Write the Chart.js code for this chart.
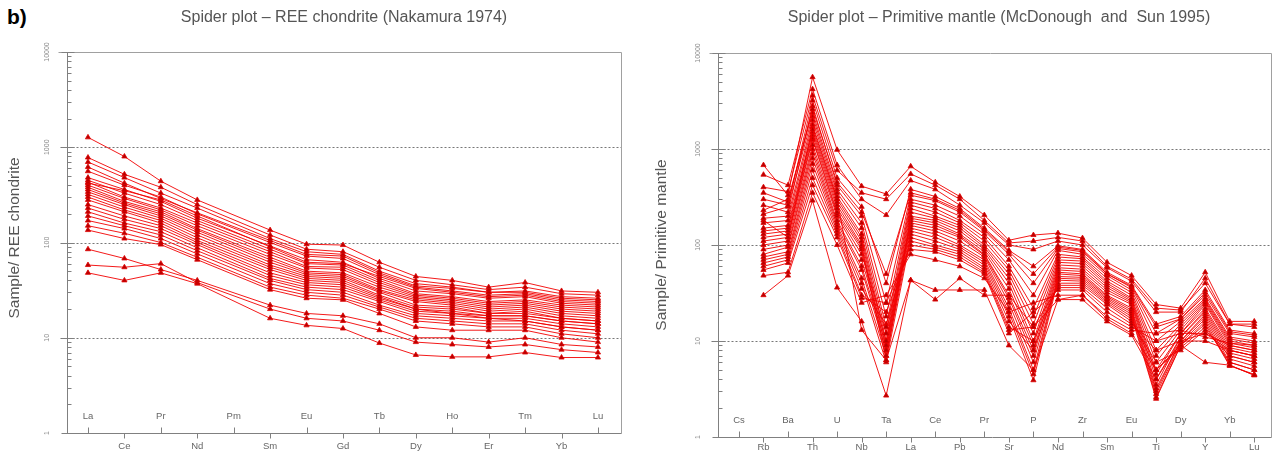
<!DOCTYPE html>
<html>
<head>
<meta charset="utf-8">
<script src="https://cdn.jsdelivr.net/npm/chart.js@4.4.1/dist/chart.umd.min.js"></script>
<style>
    body { margin: 0; background: #fff; width: 1277px; height: 452px; overflow: hidden; position: relative; }
    #tag { position: absolute; left: 7px; top: 5px; font: bold 21px "Liberation Sans", Arial, sans-serif; color: #000; }
    canvas { position: absolute; top: 0; }
    #reeChart { left: 0; }
    #pmChart { left: 640px; }
</style>
</head>
<body>
<div id="tag">b)</div>
<canvas id="reeChart" width="640" height="452"></canvas>
<canvas id="pmChart" width="637" height="452"></canvas>
<script>
// ---- data ----
const yTicks = [1, 10, 100, 1000, 10000];
const yGrid = [10, 100, 1000];

const reeLabels = ['La','Ce','Pr','Nd','Pm','Sm','Eu','Gd','Tb','Dy','Ho','Er','Tm','Yb','Lu'];
// chondrite normalised, Pm not analysed (null)
const reeSamples = [
    [1270, 800, 440, 280, null, 135, 96, 94, 62, 44, 40, 34, 38, 31, 30],
    [780, 520, 380, 250, null, 120, 85, 80, 55, 40, 36, 32, 34, 29, 28],
    [700, 480, 330, 230, null, 110, 80, 75, 50, 37, 34, 30, 31, 27, 26],
    [620, 420, 290, 205, null, 105, 75, 72, 48, 35, 33, 30, 30, 26, 25],
    [560, 400, 300, 200, null, 100, 72, 68, 46, 34, 31, 28, 29, 25, 24],
    [480, 360, 270, 180, null, 92, 66, 62, 42, 31, 29, 26, 27, 23, 22],
    [450, 330, 250, 170, null, 85, 60, 58, 40, 29, 27, 24, 25, 22, 21],
    [430, 300, 230, 160, null, 80, 56, 55, 38, 28, 26, 23, 24, 21, 20],
    [420, 350, 280, 190, null, 90, 62, 60, 44, 33, 30, 27, 28, 24, 23],
    [400, 290, 220, 150, null, 75, 54, 52, 36, 27, 25, 22, 23, 20, 19],
    [380, 270, 210, 140, null, 70, 50, 48, 34, 26, 24, 21, 22, 19, 18],
    [360, 260, 200, 135, null, 66, 48, 46, 32, 25, 23, 20, 21, 18, 17],
    [340, 250, 190, 128, null, 62, 46, 44, 31, 24, 22, 19, 20, 17, 16],
    [320, 235, 180, 120, null, 58, 44, 42, 30, 22, 21, 18, 19, 16, 15],
    [300, 220, 170, 112, null, 55, 42, 40, 28, 21, 20, 18, 18, 16, 15],
    [280, 210, 160, 105, null, 52, 40, 38, 27, 20, 19, 17, 17, 15, 14],
    [250, 190, 150, 100, null, 48, 38, 36, 26, 20, 18, 17, 17, 15, 14],
    [230, 175, 140, 95, null, 45, 36, 34, 25, 19, 18, 16, 16, 14, 13],
    [210, 160, 130, 88, null, 42, 34, 32, 24, 18, 17, 16, 15, 13, 12],
    [190, 150, 120, 82, null, 40, 32, 30, 22, 17, 16, 15, 15, 13, 12],
    [170, 140, 110, 76, null, 37, 30, 28, 21, 16, 15, 14, 14, 12, 11],
    [150, 125, 100, 70, null, 34, 28, 26, 20, 15, 14, 13, 13, 11, 10],
    [135, 110, 95, 66, null, 32, 26, 25, 18, 13, 12, 12, 12, 10, 9],
    [85, 68, 52, 40, null, 22, 18, 17, 14, 10, 10, 9, 10, 8.5, 8],
    [58, 55, 60, 38, null, 20, 16, 15, 12, 9, 8.5, 8, 8.5, 7.5, 7],
    [48, 40, 48, 37, null, 16, 13.5, 12.5, 8.8, 6.6, 6.3, 6.3, 7, 6.2, 6.2]
];

const pmLabels = ['Cs','Rb','Ba','Th','U','Nb','Ta','La','Ce','Pb','Pr','Sr','P','Nd','Zr','Sm','Eu','Ti','Dy','Y','Yb','Lu'];
// primitive mantle normalised, Cs not analysed (null)
const pmSamples = [
    [null, 680, 330, 5600, 980, 410, 340, 660, 450, 320, 205, 112, 127, 133, 118, 66, 48, 24, 22, 52, 16, 16],
    [null, 540, 420, 4200, 680, 300, 205, 470, 380, 260, 170, 100, 90, 110, 100, 58, 42, 20, 20, 45, 15, 15],
    [null, 400, 360, 3600, 600, 350, 300, 550, 420, 300, 180, 105, 110, 120, 110, 60, 44, 22, 21, 40, 15, 14],
    [null, 300, 260, 3200, 500, 250, 40, 380, 320, 240, 150, 88, 60, 98, 90, 52, 38, 15, 18, 34, 13, 12],
    [null, 350, 280, 2600, 450, 220, 50, 350, 300, 230, 145, 85, 50, 95, 88, 50, 37, 14, 17, 32, 12.5, 11.5],
    [null, 260, 220, 2800, 420, 200, 25, 330, 290, 220, 140, 80, 40, 92, 85, 50, 36, 12, 17, 30, 12, 11],
    [null, 230, 300, 2400, 380, 170, 18, 300, 260, 200, 130, 70, 30, 88, 80, 48, 34, 10, 16, 28, 11, 10],
    [null, 210, 250, 2200, 350, 150, 14, 280, 240, 180, 120, 60, 22, 80, 75, 45, 32, 8, 15, 27, 10.5, 9.5],
    [null, 190, 200, 2000, 320, 130, 12, 260, 220, 170, 110, 55, 18, 75, 72, 42, 30, 7, 14, 26, 10, 9],
    [null, 170, 180, 1800, 300, 120, 10, 240, 200, 160, 100, 50, 15, 70, 68, 40, 28, 6, 13, 25, 9.5, 8.5],
    [null, 150, 160, 1600, 280, 110, 9, 220, 190, 150, 95, 45, 12, 66, 64, 38, 27, 5, 12, 24, 9, 8],
    [null, 140, 150, 1500, 260, 100, 8, 200, 180, 140, 90, 40, 10, 62, 60, 36, 26, 4.5, 12, 22, 8.5, 7.5],
    [null, 130, 140, 1400, 240, 95, 7, 190, 170, 130, 85, 35, 9, 58, 56, 34, 25, 4, 11, 21, 8, 7],
    [null, 120, 130, 1300, 220, 90, 6.3, 180, 160, 125, 80, 30, 8, 55, 53, 32, 24, 3.5, 11, 20, 7.5, 6.5],
    [null, 110, 120, 1250, 210, 80, 12, 170, 150, 120, 78, 28, 7, 52, 50, 30, 22, 3.2, 10, 19, 7, 6],
    [null, 100, 110, 1100, 200, 70, 10, 160, 140, 110, 75, 25, 6, 50, 48, 29, 21, 3, 10, 18, 6.5, 5.5],
    [null, 90, 100, 1000, 180, 60, 9, 150, 130, 100, 70, 22, 5, 47, 46, 28, 20, 2.8, 9.5, 17, 6, 5],
    [null, 80, 95, 900, 170, 55, 8, 140, 120, 95, 66, 20, 4.5, 45, 44, 27, 19, 2.6, 9, 16, 5.6, 4.4],
    [null, 75, 85, 800, 160, 45, 7, 130, 110, 90, 62, 18, 3.9, 43, 42, 26, 18, 2.5, 9, 15, 5.5, 4.5],
    [null, 70, 80, 700, 150, 40, 6, 120, 100, 85, 58, 16, 8, 40, 40, 25, 17, 5, 8.5, 14, 6, 5],
    [null, 65, 75, 600, 140, 35, 15, 110, 95, 80, 55, 14, 10, 38, 38, 24, 16, 6, 8, 13, 7, 6],
    [null, 60, 70, 500, 130, 30, 20, 100, 90, 75, 52, 13, 14, 36, 36, 22, 15, 8, 10, 12, 8, 7],
    [null, 55, 65, 420, 120, 28, 25, 90, 85, 70, 50, 12, 20, 34, 34, 20, 14, 10, 12, 12, 9, 8],
    [null, 48, 52, 350, 100, 25, 30, 80, 70, 60, 45, 20, 25, 30, 30, 18, 13, 12, 13, 11, 9.5, 9],
    [null, 30, 48, 290, 36, 16, 2.7, 43, 34, 34, 34, 9, 5, 27, 27, 16, 11.5, 4, 10, 10, 8, 7],
    [null, 180, 120, 1700, 300, 13, 6.3, 43, 27, 45, 30, 30, 14, 27, 30, 17, 12, 5, 9, 6, 5.6, 4.4]
];

// ---- drawing helpers ----
const FONT = '"Liberation Sans", Arial, sans-serif';

function line(ctx, x1, y1, x2, y2) {
    ctx.beginPath();
    ctx.moveTo(x1, y1);
    ctx.lineTo(x2, y2);
    ctx.stroke();
}

// frame, dotted decades, ticks and all text of one spider diagram
function makeFrame(cfg) {
    return {
        id: 'spiderFrame',
        beforeDatasetsDraw(chart) {
            const { ctx, chartArea: a, scales: { x, y } } = chart;
            const L = Math.round(a.left) + 0.5, R = Math.round(a.right) - 0.5;
            const T = Math.round(a.top) + 0.5, B = Math.round(a.bottom) + 0.5;
            ctx.save();
            ctx.lineWidth = 1;

            ctx.strokeStyle = '#777';
            ctx.setLineDash([2, 2]);
            yGrid.forEach(v => {
                const py = Math.round(y.getPixelForValue(v)) + 0.5;
                line(ctx, L - 7, py, R, py);
            });
            ctx.setLineDash([]);

            ctx.strokeStyle = '#a0a0a0';
            line(ctx, L - 9, T, R, T);
            line(ctx, R, T, R, B);
            ctx.strokeStyle = '#808080';
            line(ctx, L, T, L, B);
            line(ctx, L - 5, B, R, B);

            // log ticks inside the axis
            [1, 10, 100, 1000].forEach(d => {
                for (let k = 2; k <= 9; k++) {
                    const py = Math.round(y.getPixelForValue(k * d)) + 0.5;
                    line(ctx, L, py, L + 4, py);
                }
            });
            yTicks.forEach(v => {
                const py = Math.round(y.getPixelForValue(v)) + 0.5;
                line(ctx, L - 6, py, L + 7, py);
            });

            cfg.labels.forEach((lab, i) => {
                const px = Math.round(x.getPixelForValue(i)) + 0.5;
                if (i % 2 === 0) line(ctx, px, B, px, B - 6);
                else line(ctx, px, B, px, B + 5);
            });
            ctx.restore();
        },
        afterDraw(chart) {
            const { ctx, chartArea: a, scales: { x, y } } = chart;
            ctx.save();
            ctx.fillStyle = '#555';
            ctx.textAlign = 'center';
            ctx.textBaseline = 'middle';

            ctx.font = '16px ' + FONT;
            ctx.fillText(cfg.title, cfg.titleX, 18);

            ctx.save();
            ctx.font = '15.5px ' + FONT;
            ctx.translate(cfg.yTitleX, cfg.yTitleY);
            ctx.rotate(-Math.PI / 2);
            ctx.fillText(cfg.yTitle, 0, 0);
            ctx.restore();

            ctx.fillStyle = '#8a8a8a';
            ctx.font = '7px ' + FONT;
            yTicks.forEach(v => {
                ctx.save();
                ctx.translate(a.left - 20, y.getPixelForValue(v));
                ctx.rotate(-Math.PI / 2);
                ctx.fillText(String(v), 0, 0);
                ctx.restore();
            });

            ctx.fillStyle = '#666';
            ctx.font = '9.5px ' + FONT;
            cfg.labels.forEach((lab, i) => {
                const px = x.getPixelForValue(i);
                ctx.fillText(lab, px, i % 2 === 0 ? a.bottom - 17 : a.bottom + cfg.lowRow);
            });
            ctx.restore();
        }
    };
}

function spider(canvasId, labels, samples, cfg) {
    const canvas = document.getElementById(canvasId);
    const pad = cfg.area;
    return new Chart(canvas.getContext('2d'), {
        type: 'line',
        data: {
            datasets: samples.map(s => ({
                data: s.map((v, i) => ({ x: i, y: v })),
                borderColor: 'rgba(242, 0, 0, 0.9)',
                borderWidth: 1,
                pointStyle: 'triangle',
                pointRadius: 3,
                pointBackgroundColor: '#b80000',
                pointBorderColor: '#e00000',
                pointBorderWidth: 0.8,
                spanGaps: true,
                tension: 0
            }))
        },
        options: {
            responsive: false,
            animation: false,
            devicePixelRatio: 1,
            layout: {
                padding: {
                    left: pad.left,
                    top: pad.top,
                    right: canvas.width - pad.right,
                    bottom: canvas.height - pad.bottom
                }
            },
            scales: {
                x: { type: 'linear', display: false, min: cfg.xMin, max: cfg.xMax },
                y: { type: 'logarithmic', display: false, min: 1, max: 10000 }
            },
            plugins: { legend: { display: false }, tooltip: { enabled: false } }
        },
        plugins: [makeFrame(Object.assign({ labels }, cfg))]
    });
}

spider('reeChart', reeLabels, reeSamples, {
    area: { left: 67, top: 52, right: 622, bottom: 433 },
    xMin: -0.576, xMax: 14.66,
    title: 'Spider plot \u2013 REE chondrite (Nakamura 1974)',
    titleX: 344,
    yTitle: 'Sample/ REE chondrite',
    yTitleX: 15, yTitleY: 238,
    lowRow: 13
});

spider('pmChart', pmLabels, pmSamples, {
    area: { left: 78, top: 53, right: 634, bottom: 437 },
    xMin: -0.853, xMax: 21.73,
    title: 'Spider plot \u2013 Primitive mantle (McDonough  and  Sun 1995)',
    titleX: 359,
    yTitle: 'Sample/ Primitive mantle',
    yTitleX: 22, yTitleY: 245,
    lowRow: 10
});
</script>
</body>
</html>
